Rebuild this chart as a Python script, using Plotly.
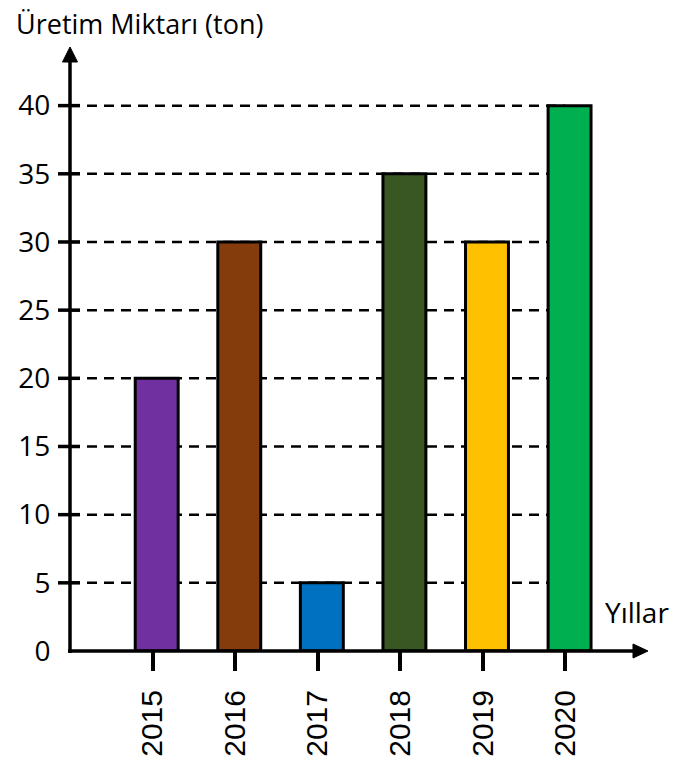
import plotly.graph_objects as go

years = ["2015", "2016", "2017", "2018", "2019", "2020"]
production = [20, 30, 5, 35, 30, 40]
bar_colors = ["#7030A0", "#843C0C", "#0070C0", "#385723", "#FFC000", "#00B050"]
y_ticks = [0, 5, 10, 15, 20, 25, 30, 35, 40]
y_title = "Üretim Miktarı (ton)"
x_title = "Yıllar"

W, H = 699, 769
L, T = 70, 47
R = W - 648
B = H - 657
PW, PH = W - L - R, H - T - B
Y_MAX = 44.3

fig = go.Figure(
    go.Bar(
        x=years,
        y=production,
        marker=dict(color=bar_colors, line=dict(color="black", width=3)),
        width=0.52,
        offset=-0.21,
        hoverinfo="x+y",
    )
)

shapes = []
# dashed gridlines
for v in y_ticks[1:]:
    shapes.append(dict(type="line", xref="x", yref="y", x0=-1, x1=5, y0=v, y1=v,
                       line=dict(color="black", width=2.5, dash="10px,7px"), layer="below"))
# y tick marks crossing the axis
for v in y_ticks[1:]:
    shapes.append(dict(type="line", xref="paper", yref="paper",
                       x0=-12 / PW, x1=10 / PW, y0=v / Y_MAX, y1=v / Y_MAX,
                       line=dict(color="black", width=3.5)))
# axis lines
shapes.append(dict(type="line", xref="paper", yref="paper", x0=0, x1=0,
                   y0=-2 / PH, y1=1 - 14 / PH, line=dict(color="black", width=3.5)))
shapes.append(dict(type="line", xref="paper", yref="paper", x0=-2 / PW, x1=1 - 14 / PW,
                   y0=0, y1=0, line=dict(color="black", width=3.5)))
# arrow heads
shapes.append(dict(type="path", xref="paper", yref="paper", xsizemode="pixel", ysizemode="pixel",
                   xanchor=0, yanchor=1, path="M -7.5,-15 L 7.5,-15 L 0,0 Z",
                   fillcolor="black", line=dict(color="black", width=1)))
shapes.append(dict(type="path", xref="paper", yref="paper", xsizemode="pixel", ysizemode="pixel",
                   xanchor=1, yanchor=0, path="M -15,-7 L -15,7 L 0,0 Z",
                   fillcolor="black", line=dict(color="black", width=1)))

annotations = [
    dict(text=y_title, xref="paper", yref="paper", x=(15 - L) / PW,
         y=1 + (T - 23) / PH,
         xanchor="left", yanchor="middle", showarrow=False, borderpad=0,
         font=dict(family="Open Sans", size=27, color="black")),
    dict(text=x_title, xref="paper", yref="paper", x=(604 - L) / PW,
         y=(657 - 618) / PH,
         xanchor="left", yanchor="middle", showarrow=False, borderpad=0,
         font=dict(family="Open Sans", size=28, color="black")),
]

fig.update_layout(
    width=W, height=H,
    margin=dict(l=L, r=R, t=T, b=B, pad=0),
    paper_bgcolor="white", plot_bgcolor="white",
    showlegend=False,
    shapes=shapes,
    annotations=annotations,
    xaxis=dict(
        type="category", range=[-1, 6], showgrid=False, zeroline=False, showline=False,
        ticks="outside", ticklen=19, tickwidth=3.5, tickcolor="black",
        tickangle=-90, ticklabelstandoff=7,
        tickfont=dict(family="Liberation Sans", size=30, color="black"),
    ),
    yaxis=dict(
        range=[0, Y_MAX], tickvals=y_ticks, ticktext=[str(v) for v in y_ticks],
        showgrid=False, zeroline=False, showline=False,
        ticks="outside", ticklen=12, tickwidth=0.01, tickcolor="white",
        ticklabelstandoff=1,
        tickfont=dict(family="Open Sans", size=28, color="black"),
    ),
)

fig.write_html("out.html", config={"displayModeBar": False},
               post_script="document.body.style.margin='0';")
